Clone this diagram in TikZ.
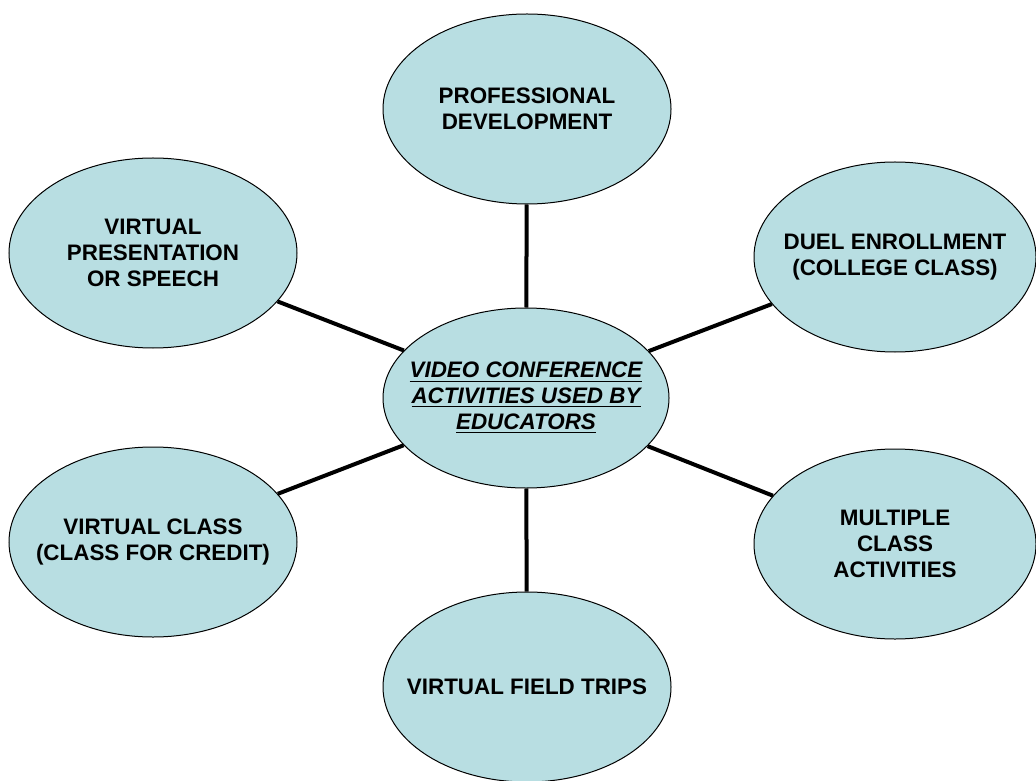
\documentclass[tikz,border=0pt]{standalone}
\usepackage{fontspec}
\setmainfont{Liberation Sans}
\usetikzlibrary{shapes.geometric}
\definecolor{bubblefill}{RGB}{184,222,226}
\tikzset{
  bubble/.style={ellipse, draw=black, line width=0.5pt, fill=bubblefill,
    inner xsep=-30pt, inner ysep=-15pt,
    minimum width=144pt, minimum height=95pt, align=center,
    font=\fontsize{11.2}{12.9}\selectfont\bfseries},
  spoke/.style={line width=2pt, black}
}
\begin{document}
\begin{tikzpicture}[x=0.5pt,y=-0.5pt]
        \useasboundingbox (0,0) rectangle (1036,780);
        \node[bubble, minimum height=90pt, minimum width=143pt] (vc) at (526,398)
            {\underline{\itshape VIDEO CONFERENCE}\\\underline{\itshape ACTIVITIES USED BY}\\\underline{\itshape EDUCATORS}};
        \node[bubble] (prof) at (527,109) {PROFESSIONAL\\DEVELOPMENT};
        \node[bubble] (speech) at (153,253) {VIRTUAL\\PRESENTATION\\OR SPEECH};
        \node[bubble, minimum width=141pt] (duel) at (895,257) {DUEL ENROLLMENT\\(COLLEGE CLASS)};
        \node[bubble] (credit) at (153,542) {VIRTUAL CLASS\\(CLASS FOR CREDIT)};
        \node[bubble, minimum width=141pt] (multi) at (895,544) {MULTIPLE\\CLASS\\ACTIVITIES};
        \node[bubble] (trips) at (527,687) {VIRTUAL FIELD TRIPS};
        \draw[spoke] (vc) -- (prof);
        \draw[spoke] (vc) -- (speech);
        \draw[spoke] (vc) -- (duel);
        \draw[spoke] (vc) -- (credit);
        \draw[spoke] (vc) -- (multi);
        \draw[spoke] (vc) -- (trips);
\end{tikzpicture}
\end{document}
